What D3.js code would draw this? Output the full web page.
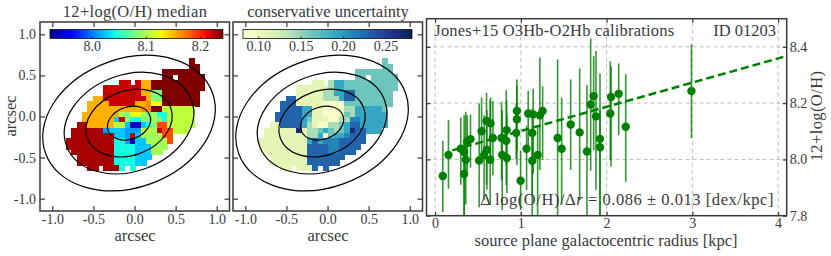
<!DOCTYPE html>
<html>
<head>
<meta charset="utf-8">
<script src="https://cdn.jsdelivr.net/npm/d3@7"></script>
<style>
  html, body { margin: 0; padding: 0; background: #fff; }
  svg { display: block; }
  text { font-family: "Liberation Serif", serif; fill: #3a3a3a; }
</style>
</head>
<body>
<div id="chart"></div>
<script>
// Metallicity map, one letter per spaxel
const medianLevels = { D: 8.242, R: 8.231, C: 8.222, X: 8.188, P: 8.165, O: 8.154, Y: 8.127, L: 8.108, G: 8.097, T: 8.084, A: 8.043, S: 8.025, B: 8.012, E: 7.984, N: 7.942 };
const medianRows = [
  ".......................D..",
  ".......................DD.",
  "..................DDDDDDD.",
  "..................DD.DDDDD",
  "..........CC.COODDDDDDDDDD",
  ".......CCCCCCCOODDDDDDDDDD",
  ".......CCCCCCCOOTTDDDDDDD.",
  ".....OOCCCCCCCCOTTDDDDDDD.",
  "....OOOOCCCCCOOPYYDDDDDDD.",
  "....OOOOOOOOOOPPDDLLLLLL..",
  "...OOOOOOOGTYYGTGAALLLLL..",
  "...OOOOOOSCTAATTGTALLLLL..",
  "..RROOOOOLLSNNSATXXLLLLL..",
  ".RRRRRRBSSSBBBLLGCXXLLL...",
  ".RRRRRRRRSSBCSGGGGXX......",
  "RRRRRRRRRAABNSSGGGGX......",
  "RRRRRRRRRAAAASSSGGG.......",
  ".RRRRRRRRAAAASSSGG........",
  "..RRRRRRRAAAASSS..........",
  "..RRRRRRRAAAASS...........",
  "....RR.RRRA.A............."
];

// Uncertainty map on the same spaxel grid
const uncertaintyLevels = { V: 0.092, P: 0.11, M: 0.142, T: 0.164, U: 0.191, W: 0.211, K: 0.229, N: 0.265 };
const uncertaintyRows = [
  ".......................T..",
  ".......................TT.",
  "..................TTTTTTT.",
  "..................TT.TTTTT",
  "..........PP.MUUTTTTTTTTTT",
  ".......PPPPPPMUUTTTTTTTTTT",
  ".......PPPPPMMUUKKTTTTTTT.",
  ".....KKPPPPPMMMUKKTTTTTTT.",
  "....KKKPPPPPVVVVTTTTTTTTT.",
  "....KKKKUUPPVVVVMMUUUUUT..",
  "...KKKKKUUPPVVVPTMUUUUUU..",
  "...KKKKKUTPPPVVMMWWUUUUU..",
  "..PPKKKKUMPVVMMTUKKUUUUU..",
  ".PPPPPPNPMMTUTMTUNKKUUU...",
  ".PPPPPPPPMMUVTUUWKKK......",
  "PPPPPPPPPUKUWWWKKKKK......",
  "PPPPPPPPPKKKKWWKKKK.......",
  ".PPPPPPPPKKKKWWKKK........",
  "..PPPPPPPKKKKKKK..........",
  "..PPPPPPPKKKKKK...........",
  "....PP.PPPK.K............."
];

// Spaxel grid origin and pitch, in arcsec
const gridLeft = -0.833;
const gridTop = 0.707;
const gridStep = 0.0649;

// Deprojected radius contours, in arcsec along the major axis
const contourRadii = [0.27, 0.54, 0.81, 1.08];
const contourCentre = [-0.067, -0.08];
const contourRatio = 0.725;
const contourAngle = 20;

// Radial profile points
const radius = [0.09, 0.156, 0.30, 0.339, 0.339, 0.358, 0.374, 0.413, 0.514, 0.542, 0.572, 0.60, 0.604, 0.642, 0.647, 0.674, 0.775, 0.783, 0.83, 0.837, 0.834, 0.946, 0.954, 0.954, 0.997, 1.067, 1.086, 1.144, 1.133, 1.133, 1.196, 1.222, 1.254, 1.429, 1.476, 1.581, 1.686, 1.771, 1.814, 1.849, 1.876, 1.923, 1.923, 2.043, 2.052, 2.141, 2.223, 2.989];
const oh = [7.941, 8.016, 8.038, 8.026, 7.948, 7.999, 8.064, 8.072, 7.996, 8.10, 8.016, 8.137, 8.034, 7.999, 8.128, 8.076, 8.076, 8.016, 8.066, 8.005, 8.104, 8.094, 8.172, 8.143, 7.924, 8.038, 8.163, 8.16, 8.094, 7.995, 8.016, 8.157, 8.172, 8.076, 8.038, 8.124, 8.096, 8.028, 8.195, 8.225, 8.153, 8.073, 8.043, 8.163, 8.222, 8.233, 8.116, 8.243];
const ohLow = [7.813, 7.896, 7.91, 7.79, 7.79, 7.84, 7.955, 7.97, 7.83, 7.99, 7.855, 7.91, 7.892, 7.84, 8.0, 7.944, 7.926, 7.82, 7.909, 7.88, 7.98, 8.0, 8.03, 7.98, 7.82, 7.891, 8.033, 7.95, 7.79, 7.87, 7.79, 7.962, 7.998, 7.79, 7.84, 7.962, 7.855, 7.79, 7.96, 8.033, 7.892, 7.79, 7.79, 7.998, 7.975, 8.086, 7.921, 8.076];
const ohHigh = [8.066, 8.14, 8.149, 8.157, 8.06, 8.169, 8.157, 8.16, 8.199, 8.22, 8.157, 8.237, 8.175, 8.21, 8.22, 8.208, 8.205, 8.175, 8.246, 8.157, 8.21, 8.2, 8.284, 8.26, 8.03, 8.12, 8.244, 8.252, 8.18, 8.085, 8.12, 8.362, 8.26, 8.355, 8.22, 8.284, 8.323, 8.264, 8.43, 8.367, 8.385, 8.305, 8.175, 8.349, 8.331, 8.341, 8.303, 8.408];

// Gradient fit
const fitIntercept = 8.015;
const fitSlope = 0.086;
const fitRange = [0.2, 4.1];

const svg = d3.select("#chart").append("svg")
    .attr("width", 831)
    .attr("height", 256);

const ink = "#3a3a3a";
const tickFont = 14;
const labelFont = 16.5;

// Same colours as matplotlib's jet
const jetRed = d3.scaleLinear().domain([0, 0.35, 0.66, 0.89, 1]).range([0, 0, 1, 1, 0.5]).clamp(true);
const jetGreen = d3.scaleLinear().domain([0, 0.125, 0.375, 0.64, 0.91, 1]).range([0, 0, 1, 1, 0, 0]).clamp(true);
const jetBlue = d3.scaleLinear().domain([0, 0.11, 0.34, 0.65, 1]).range([0.5, 1, 1, 0, 0]).clamp(true);
const jet = t => d3.rgb(jetRed(t) * 255, jetGreen(t) * 255, jetBlue(t) * 255).formatRgb();

const noMinus = d3.format(".1f");
const tickText = d => noMinus(d).replace("\u2212", "-");

function styleAxis(g) {
    g.select(".domain").remove();
    g.selectAll(".tick line").attr("stroke", ink).attr("stroke-width", 1.2);
    g.selectAll(".tick text").attr("font-size", tickFont).attr("fill", ink);
}

function drawMap(opts) {
    const x = d3.scaleLinear().domain([-1.15, 1.155]).range([opts.left, opts.left + 189.5]);
    const y = d3.scaleLinear().domain([1.15, -1.15]).range([22, 211]);
    const g = svg.append("g");

    // Spaxels
    const cells = [];
    opts.rows.forEach((row, r) => {
        row.split("").forEach((code, c) => {
            if (code !== ".") cells.push({ c, r, value: opts.levels[code] });
        });
    });
    g.selectAll(".cell")
        .data(cells)
        .enter().append("rect")
        .attr("class", "cell")
        .attr("x", d => x(gridLeft + d.c * gridStep))
        .attr("y", d => y(gridTop - d.r * gridStep))
        .attr("width", x(gridStep) - x(0) + 0.5)
        .attr("height", y(0) - y(gridStep) + 0.5)
        .attr("fill", d => opts.color(d.value))
        .attr("shape-rendering", "crispEdges");

    // Radius contours
    const cx = x(contourCentre[0]);
    const cy = y(contourCentre[1]);
    g.selectAll(".contour")
        .data(contourRadii)
        .enter().append("ellipse")
        .attr("class", "contour")
        .attr("cx", cx)
        .attr("cy", cy)
        .attr("rx", d => x(d) - x(0))
        .attr("ry", d => (x(d) - x(0)) * contourRatio)
        .attr("transform", `rotate(${-contourAngle},${cx},${cy})`)
        .attr("fill", "none")
        .attr("stroke", "#000")
        .attr("stroke-width", 1.2);

    // Inward ticks on all four sides
    const ticks = [-1, -0.5, 0, 0.5, 1];
    g.append("g").attr("transform", "translate(0,211)")
        .call(d3.axisBottom(x).tickValues(ticks).tickSize(-5).tickPadding(3).tickFormat(tickText))
        .call(styleAxis);
    g.append("g").attr("transform", "translate(0,22)")
        .call(d3.axisTop(x).tickValues(ticks).tickSize(-5).tickFormat(""))
        .call(styleAxis);
    g.append("g").attr("transform", `translate(${opts.left},0)`)
        .call(d3.axisLeft(y).tickValues(ticks).tickSize(-5).tickPadding(4).tickFormat(opts.yLabels ? tickText : ""))
        .call(styleAxis);
    g.append("g").attr("transform", `translate(${opts.left + 189.5},0)`)
        .call(d3.axisRight(y).tickValues(ticks).tickSize(-5).tickFormat(""))
        .call(styleAxis);

    g.append("rect")
        .attr("x", opts.left).attr("y", 22)
        .attr("width", 189.5).attr("height", 189)
        .attr("fill", "none")
        .attr("stroke", ink)
        .attr("stroke-width", 1.5);

    // Inset colour bar
    const bar = d3.scaleLinear().domain(opts.barDomain).range(opts.barRange);
    const steps = d3.range(opts.barRange[0], opts.barRange[1], 1);
    g.selectAll(".swatch")
        .data(steps)
        .enter().append("rect")
        .attr("class", "swatch")
        .attr("x", d => d)
        .attr("y", 29.5)
        .attr("width", 1.3)
        .attr("height", 9)
        .attr("fill", d => opts.color(bar.invert(d + 0.5)));
    g.append("rect")
        .attr("x", opts.barRange[0]).attr("y", 29.5)
        .attr("width", opts.barRange[1] - opts.barRange[0]).attr("height", 9)
        .attr("fill", "none").attr("stroke", "#111").attr("stroke-width", 0.8);
    g.append("g").attr("transform", "translate(0,38.5)")
        .call(d3.axisBottom(bar).tickValues(opts.barTicks).tickSize(-2).tickPadding(2.5).tickFormat(d3.format(opts.barFormat)))
        .call(styleAxis)
        .call(a => a.selectAll(".tick line").attr("stroke", "#111").attr("stroke-width", 0.8));

    g.append("text")
        .attr("x", opts.left + 95).attr("y", 17)
        .attr("text-anchor", "middle")
        .attr("font-size", labelFont)
        .attr("letter-spacing", opts.titleSpacing)
        .text(opts.title);
    g.append("text")
        .attr("x", opts.left + 95).attr("y", 241)
        .attr("text-anchor", "middle")
        .attr("font-size", labelFont)
        .text("arcsec");
}

drawMap({
    left: 40,
    rows: medianRows,
    levels: medianLevels,
    color: v => jet((v - 7.923) / 0.319),
    barDomain: [7.923, 8.242],
    barRange: [50, 222.7],
    barTicks: [8.0, 8.1, 8.2],
    barFormat: ".1f",
    title: "12+log(O/H) median",
    titleSpacing: 0.3,
    yLabels: true
});

drawMap({
    left: 233,
    rows: uncertaintyRows,
    levels: uncertaintyLevels,
    color: v => d3.interpolateYlGnBu((v - 0.082) / 0.199),
    barDomain: [0.082, 0.281],
    barRange: [243, 411.7],
    barTicks: [0.10, 0.15, 0.20, 0.25],
    barFormat: ".2f",
    title: "conservative uncertainty",
    titleSpacing: 0,
    yLabels: false
});

svg.append("text")
    .attr("transform", "translate(16,116) rotate(-90)")
    .attr("text-anchor", "middle")
    .attr("font-size", labelFont)
    .text("arcsec");

// Right hand panel, the radial profile
const px = d3.scaleLinear().domain([-0.1, 4.1]).range([426.5, 786.7]);
const py = d3.scaleLinear().domain([7.8, 8.5]).range([215.7, 18.7]);

svg.append("clipPath").attr("id", "profile-clip")
    .append("rect")
    .attr("x", 426.5).attr("y", 18.7)
    .attr("width", 360.2).attr("height", 197);

const profile = svg.append("g");

// Dashed grid
profile.selectAll(".vgrid")
    .data([0, 1, 2, 3, 4])
    .enter().append("line")
    .attr("class", "vgrid")
    .attr("x1", d => px(d)).attr("x2", d => px(d))
    .attr("y1", py(7.8)).attr("y2", py(8.5))
    .attr("stroke", "#bdbdbd").attr("stroke-width", 1).attr("stroke-dasharray", "4,3");
profile.selectAll(".hgrid")
    .data([8.0, 8.2, 8.4])
    .enter().append("line")
    .attr("class", "hgrid")
    .attr("x1", px(-0.1)).attr("x2", px(4.1))
    .attr("y1", d => py(d)).attr("y2", d => py(d))
    .attr("stroke", "#bdbdbd").attr("stroke-width", 1).attr("stroke-dasharray", "4,3");

const plotArea = profile.append("g").attr("clip-path", "url(#profile-clip)");

// Error bars
plotArea.selectAll(".err")
    .data(radius)
    .enter().append("line")
    .attr("class", "err")
    .attr("x1", d => px(d)).attr("x2", d => px(d))
    .attr("y1", (d, i) => py(ohLow[i]))
    .attr("y2", (d, i) => py(ohHigh[i]))
    .attr("stroke", "#008000")
    .attr("stroke-opacity", 0.8)
    .attr("stroke-width", 1.6);

// Fit line
plotArea.append("path")
    .datum(fitRange)
    .attr("d", d3.line().x(d => px(d)).y(d => py(fitIntercept + fitSlope * d)))
    .attr("fill", "none")
    .attr("stroke", "#008000")
    .attr("stroke-width", 2.5)
    .attr("stroke-dasharray", "8,4");

// Points
plotArea.selectAll(".dot")
    .data(radius)
    .enter().append("circle")
    .attr("class", "dot")
    .attr("cx", d => px(d))
    .attr("cy", (d, i) => py(oh[i]))
    .attr("r", 4.2)
    .attr("fill", "#008000");

// Axes
const radiusTicks = [0, 1, 2, 3, 4];
profile.append("g").attr("transform", `translate(0,${py(7.8)})`)
    .call(d3.axisBottom(px).tickValues(radiusTicks).tickSize(-4).tickPadding(2).tickFormat(d3.format("d")))
    .call(styleAxis);
profile.append("g").attr("transform", `translate(0,${py(8.5)})`)
    .call(d3.axisTop(px).tickValues(radiusTicks).tickSize(-4).tickFormat(""))
    .call(styleAxis);
profile.append("g").attr("transform", `translate(${px(4.1)},0)`)
    .call(d3.axisRight(py).tickValues([7.8, 8.0, 8.2, 8.4]).tickSize(-4).tickPadding(3).tickFormat(d3.format(".1f")))
    .call(styleAxis);
profile.append("g").attr("transform", `translate(${px(-0.1)},0)`)
    .call(d3.axisLeft(py).tickValues([7.8, 8.0, 8.2, 8.4]).tickSize(-4).tickFormat(""))
    .call(styleAxis);

profile.append("rect")
    .attr("x", px(-0.1)).attr("y", py(8.5))
    .attr("width", px(4.1) - px(-0.1)).attr("height", py(7.8) - py(8.5))
    .attr("fill", "none")
    .attr("stroke", ink)
    .attr("stroke-width", 1.5);

// Panel text
profile.append("text")
    .attr("x", 434.3).attr("y", 36)
    .attr("font-size", labelFont)
    .attr("letter-spacing", 0.2)
    .text("Jones+15 O3Hb-O2Hb calibrations");
profile.append("text")
    .attr("x", 776).attr("y", 36)
    .attr("text-anchor", "end")
    .attr("font-size", labelFont)
    .text("ID 01203");

const note = profile.append("text")
    .attr("x", 774).attr("y", 205)
    .attr("text-anchor", "end")
    .attr("font-size", labelFont)
    .attr("letter-spacing", 0.55);
note.append("tspan").text("\u0394 log(O/H)/\u0394");
note.append("tspan").attr("font-style", "italic").text("r");
note.append("tspan").text(" = 0.086 \u00b1 0.013 [dex/kpc]");

profile.append("text")
    .attr("x", 606).attr("y", 246)
    .attr("text-anchor", "middle")
    .attr("font-size", labelFont)
    .text("source plane galactocentric radius [kpc]");
profile.append("text")
    .attr("transform", "translate(822,116) rotate(-90)")
    .attr("text-anchor", "middle")
    .attr("font-size", labelFont)
    .attr("letter-spacing", 0.4)
    .text("12+log(O/H)");
</script>
</body>
</html>
